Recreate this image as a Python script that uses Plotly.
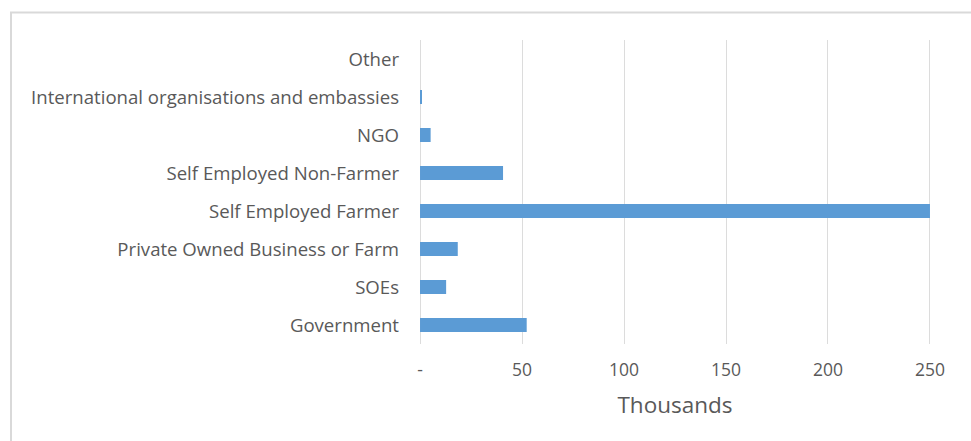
import plotly.graph_objects as go

# Employment by sector (thousands), listed bottom to top
categories = [
    "Government",
    "SOEs",
    "Private Owned Business or Farm",
    "Self Employed Farmer",
    "Self Employed Non-Farmer",
    "NGO",
    "International organisations and embassies",
    "Other",
]
values = [52.3, 12.8, 18.5, 250, 40.7, 5.2, 0.8, 0.0]

x_tick_vals = [0, 50, 100, 150, 200, 250]
x_tick_text = ["-", "50", "100", "150", "200", "250"]

FONT = "Open Sans"
TEXT = "#595959"
GRID = "#dcdcdc"

fig = go.Figure(
    go.Bar(
        x=values,
        y=categories,
        orientation="h",
        marker=dict(color="#5b9bd5", line=dict(width=0)),
        hoverinfo="x+y",
    )
)

fig.update_layout(
    width=971,
    height=441,
    margin=dict(l=419, r=40, t=40, b=97),
    paper_bgcolor="white",
    plot_bgcolor="white",
    bargap=0.63,
    showlegend=False,
    font=dict(family=FONT, size=18, color=TEXT),
    xaxis=dict(
        # a small pad keeps the gridlines at 0 and 250 inside the plot area
        range=[-0.5, 250.5],
        tickvals=x_tick_vals,
        ticktext=x_tick_text,
        showgrid=True,
        gridcolor=GRID,
        gridwidth=1.3,
        zeroline=False,
        showline=False,
        ticks="",
        ticklabelstandoff=13,
        tickfont=dict(family=FONT, size=17.5, color=TEXT),
        title=dict(text="Thousands", font=dict(family=FONT, size=22.5, color=TEXT), standoff=17),
        fixedrange=True,
    ),
    yaxis=dict(
        categoryorder="array",
        categoryarray=categories,
        range=[-0.5, len(categories) - 0.5],
        showgrid=False,
        zeroline=False,
        showline=False,
        ticks="",
        ticklabelstandoff=19,
        tickfont=dict(family=FONT, size=18.6, color=TEXT),
        fixedrange=True,
    ),
    shapes=[
        # chart frame
        dict(
            type="rect",
            xref="paper",
            yref="paper",
            x0=(11 - 419) / 512,
            x1=(980 - 419) / 512,
            y0=(344 - 450) / 304,
            y1=(344 - 12.5) / 304,
            line=dict(color="#d9d9d9", width=2),
            fillcolor="rgba(0,0,0,0)",
            layer="below",
        )
    ],
)

fig.write_html("out.html")
